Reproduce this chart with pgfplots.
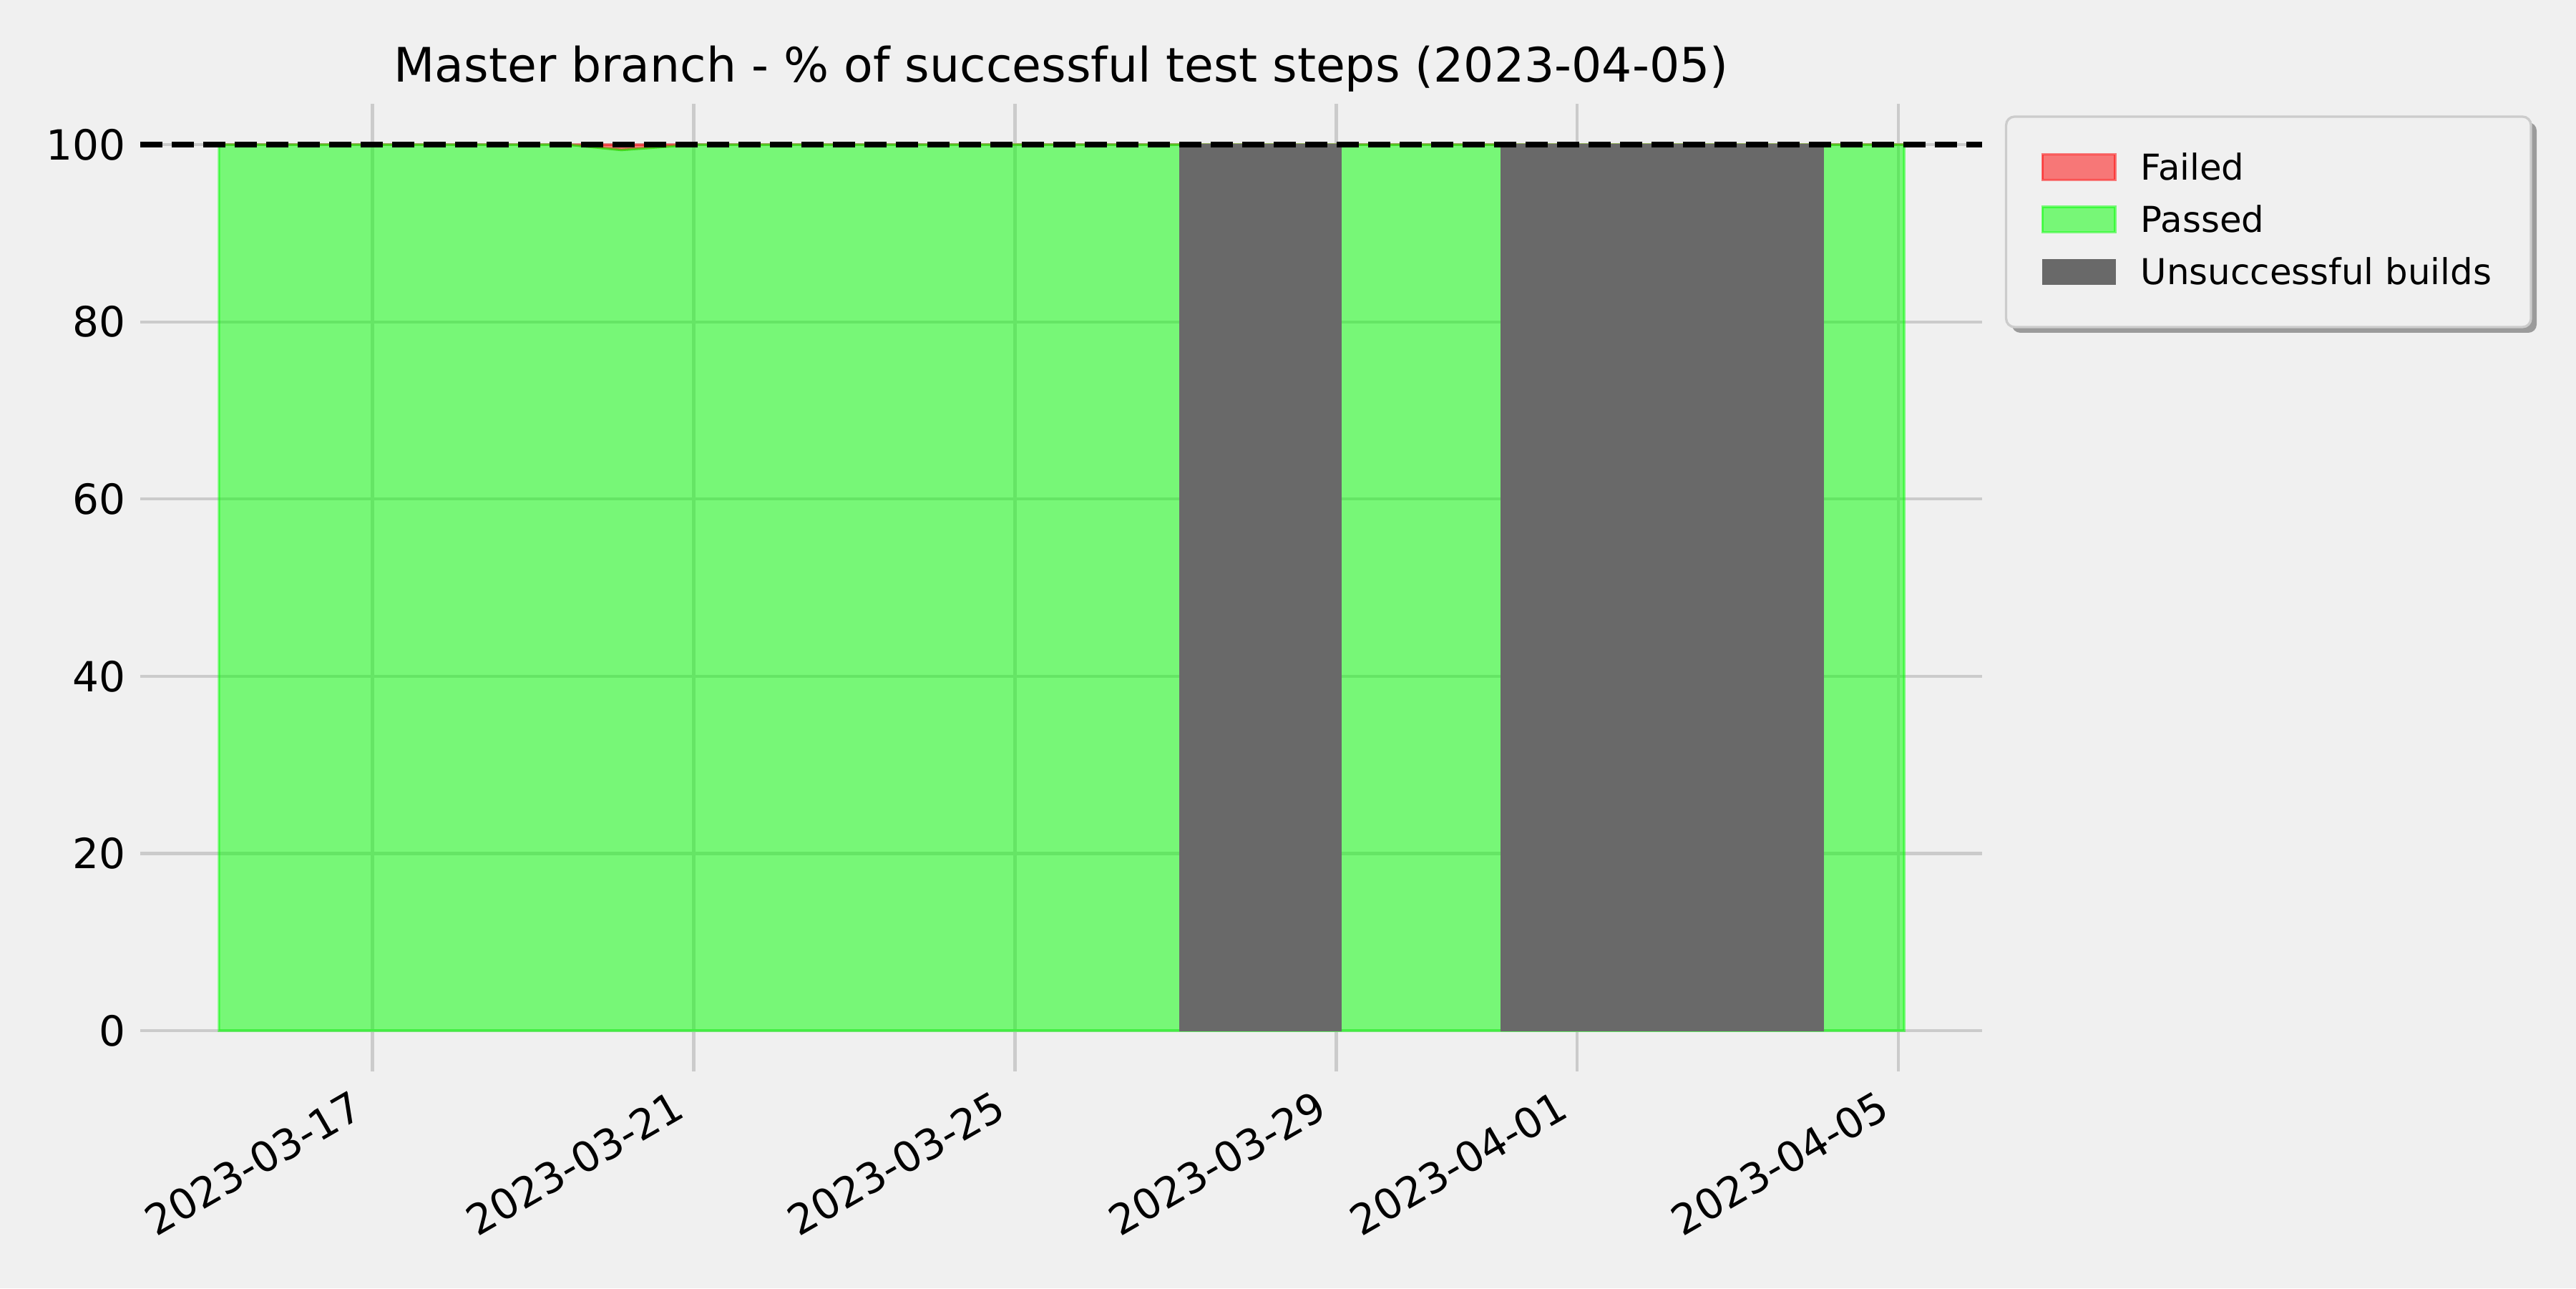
\documentclass[border=0pt]{standalone}
\usepackage{fontspec}
\setmainfont{DejaVu Sans}
\usepackage{pgfplots}
\pgfplotsset{compat=1.18}
\definecolor{bg}{HTML}{F0F0F0}
\definecolor{gridc}{HTML}{CBCBCB}
\definecolor{dimgray}{HTML}{696969}
\definecolor{lime}{HTML}{00FF00}
\definecolor{pureRed}{HTML}{FF0000}
\definecolor{legedge}{HTML}{CCCCCC}
\definecolor{shadowc}{HTML}{9B9B9B}

\pgfplotsset{
    patchlegend/.style={
        legend image code/.code={\draw[sharp corners, ##1] (0cm,0cm) rectangle (0.86cm,0.3cm);}
    },
}

\begin{document}
\begin{tikzpicture}
% figure background, sized so the page is 12in x 6in
\fill[bg] (-1.6595cm,-2.5654cm) rectangle (28.820cm,12.675cm);
% legend frame with its shadow
\fill[shadowc, rounded corners=0.1cm] (22.145cm,8.738cm) rectangle (28.355cm,11.227cm);
\draw[legedge, fill=bg, line width=0.8pt, rounded corners=0.1cm] (22.077cm,8.806cm) rectangle (28.287cm,11.295cm);
\begin{axis}[
    at={(0,0)}, anchor=south west,
    scale only axis,
    width=21.793cm, height=11.447cm,
    xmin=-2.89, xmax=20.04,
    ymin=-4.6, ymax=104.6,
    axis line style={draw=none},
    major tick length=0pt,
    grid=major,
    grid style={gridc, line width=1pt},
    xtick={0,4,8,12,15,19},
    xticklabels={2023-03-17,2023-03-21,2023-03-25,2023-03-29,2023-04-01,2023-04-05},
    ytick={0,20,40,60,80,100},
    tick label style={font=\fontsize{14}{16}\selectfont},
    xticklabel style={anchor=north east, inner sep=0pt, xshift=-0.26cm, yshift=-0.2cm, rotate=30},
    yticklabel style={inner sep=0pt, xshift=-0.17cm},
    /pgf/number format/assume math mode=true,
    title={Master branch - \% of successful test steps (2023-04-05)},
    every axis title/.style={at={(0.5,1)}, anchor=base, yshift=0.262cm,
                 font=\fontsize{16}{19}\selectfont},
    legend style={
        at={(1.013,0.9867)}, anchor=north west,
        fill=none, draw=none,
        inner xsep=0.41cm, inner ysep=0.42cm,
        column sep=0.29cm, row sep=0.22cm,
        nodes={inner sep=0pt, text height=0.32cm, text depth=0.08cm, anchor=base west},
        font=\fontsize{12}{14}\selectfont,
    },
    legend cell align=left,
]

% Failed
\addplot[patchlegend, fill=pureRed, fill opacity=0.5, draw=pureRed, draw opacity=0.5, line width=0.8pt]
    coordinates {
    (-1.91,100) (19.07,100) (4.00,100) (3.10,99.39) (2.43,100) (-1.91,100)
    } -- cycle;
\addlegendentry{Failed}

% Passed
\addplot[patchlegend, fill=lime, fill opacity=0.5, draw=lime, draw opacity=0.5, line width=0.8pt]
    coordinates {
    (-1.91,0) (-1.91,100) (2.43,100) (3.10,99.39) (4.00,100) (19.07,100) (19.07,0)
    } -- cycle;
\addlegendentry{Passed}

% Unsuccessful builds
\addplot[patchlegend, fill=dimgray, draw=dimgray, line width=0pt]
    coordinates {(10.05,0) (10.05,100) (12.06,100) (12.06,0)} -- cycle;
\addlegendentry{Unsuccessful builds}
\addplot[forget plot, fill=dimgray, draw=dimgray, line width=0pt]
    coordinates {(14.05,0) (14.05,100) (18.07,100) (18.07,0)} -- cycle;

% 100% reference line
\addplot[forget plot, black, line width=2pt, dash pattern=on 7.4pt off 3.2pt]
    coordinates {(-2.89,100) (20.04,100)};

\end{axis}
\end{tikzpicture}
\end{document}
